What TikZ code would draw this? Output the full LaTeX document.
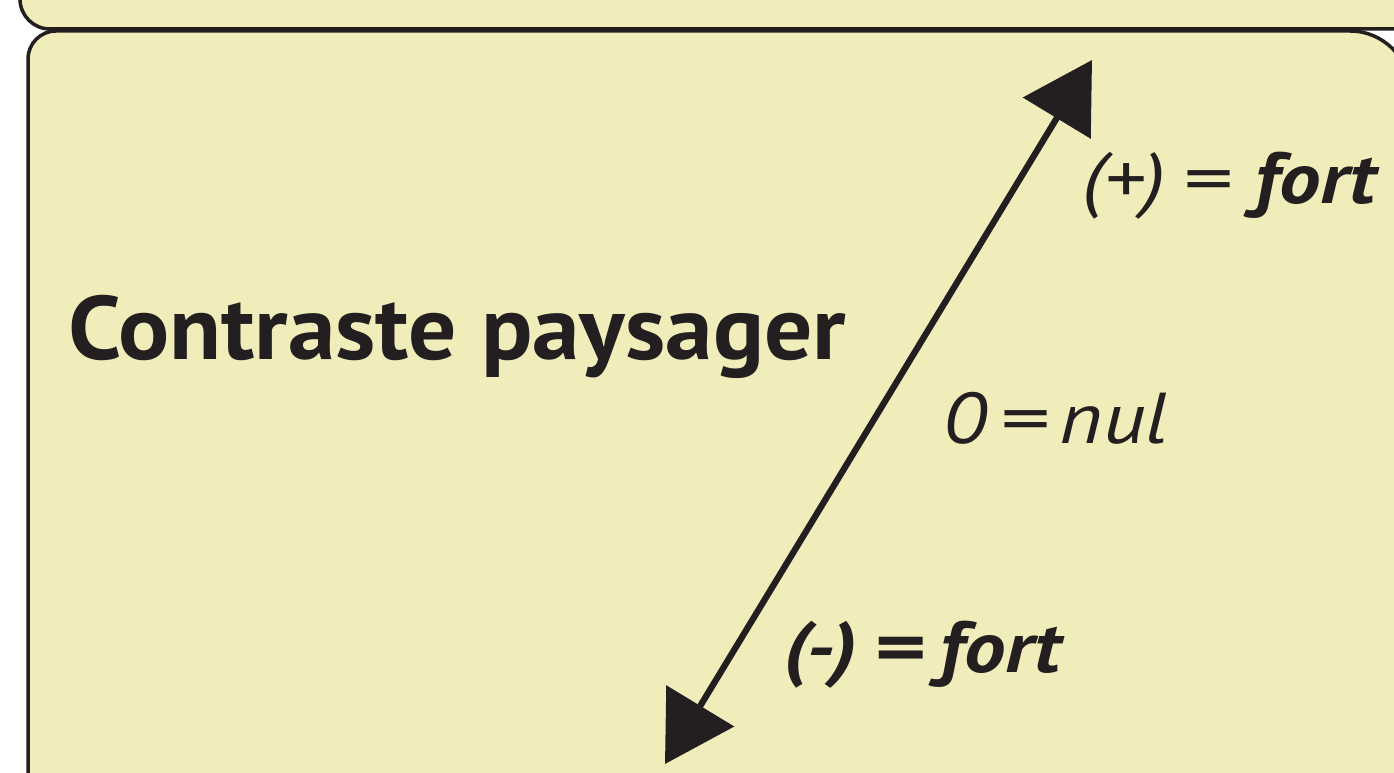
\documentclass[tikz,border=0pt]{standalone}
\usepackage{fontspec}
\setmainfont{PT Sans}
\newfontfamily\titlefont[FakeStretch=1.06]{PT Sans}
\newfontfamily\lblfont[FakeStretch=1.15]{PT Sans}
\usetikzlibrary{arrows.meta}
\definecolor{boxfill}{RGB}{241,237,186}
\definecolor{ink}{RGB}{35,31,32}
\newcommand{\eqsign}{\scalebox{1.2}[1]{=}}
\tikzset{
  panel/.style={draw=ink, fill=boxfill, line width=3.5pt},
  bigarrow/.style={draw=ink, line width=6.3pt, {Triangle[length=68pt,width=78pt]}-{Triangle[length=68pt,width=78pt]}},
  lbl/.style={text=ink, inner sep=0pt, anchor=base west, font=\fontsize{72}{72}\lblfont\itshape},
}
\begin{document}
\begin{tikzpicture}[x=1pt,y=-1pt]
\useasboundingbox (0,0) rectangle (1394,773);
\begin{scope}
\clip (0,0) rectangle (1394,773);
% top panel (partly visible)
\path[panel] (20,-200) -- (20,-1) arc[start angle=180, end angle=90, radius=30] -- (1460,29) -- (1460,-200) -- cycle;
% main panel
\path[panel] (28,900) -- (28,59) arc[start angle=180, end angle=270, radius=28] -- (1350,31) arc[start angle=270, end angle=360, radius=60] -- (1410,900) -- cycle;
\end{scope}
\coordinate (lo) at (665,764);
\coordinate (hi) at (1092,60);
\draw[bigarrow] (lo) -- (hi);
\node[text=ink, inner sep=0pt, anchor=base west, font=\fontsize{90}{90}\titlefont\bfseries] (title) at (68,359) {Contraste paysager};
\node[lbl] (plus) at (1082,203) {(+)\hspace{16pt}\eqsign\hspace{25pt}\textbf{fort}};
\node[lbl] (zero) at (943,443) {0\hspace{13pt}\eqsign\hspace{13pt}nul};
\node[lbl, font=\fontsize{72}{72}\lblfont\itshape\bfseries] (minus) at (783,672) {(-)\hspace{16pt}\eqsign\hspace{16pt}fort};
\end{tikzpicture}
\end{document}
